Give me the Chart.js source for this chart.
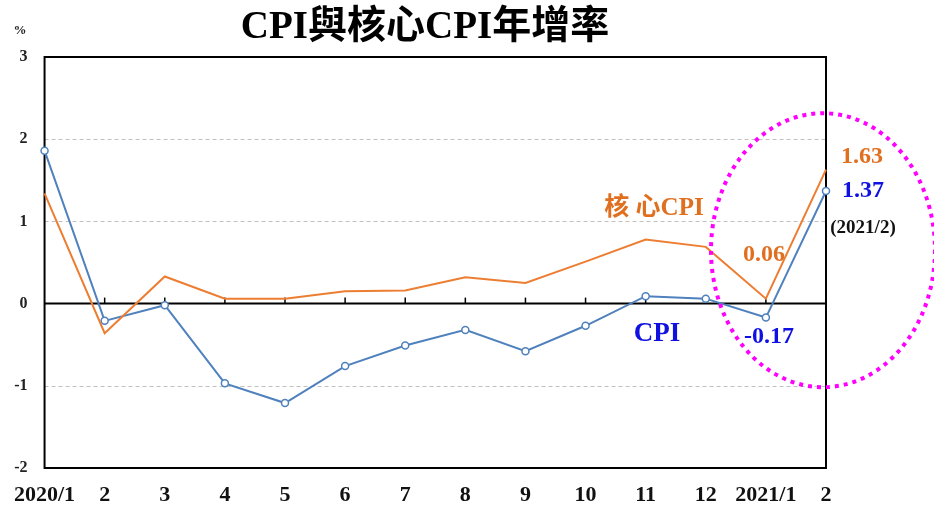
<!DOCTYPE html>
<html lang="zh-Hant">
<head>
<meta charset="UTF-8">
<title>CPI與核心CPI年增率</title>
<script src="https://cdn.jsdelivr.net/npm/chart.js"></script>
<style>
  body { margin: 0; background: #fff; }
  #wrap { width: 934px; height: 505px; }
</style>
</head>
<body>
<div id="wrap"><canvas id="cpiChart" width="934" height="505"></canvas></div>
<script>
// months 2020/1 .. 2021/2
const months = ['2020/1', '2', '3', '4', '5', '6', '7', '8', '9', '10', '11', '12', '2021/1', '2'];
const cpi = [1.86, -0.21, -0.02, -0.97, -1.21, -0.76, -0.51, -0.32, -0.58, -0.27, 0.09, 0.06, -0.17, 1.37];
const coreCpi = [1.34, -0.36, 0.33, 0.06, 0.06, 0.15, 0.16, 0.32, 0.25, 0.51, 0.78, 0.69, 0.06, 1.63];
const yTicks = [-2, -1, 0, 1, 2, 3];

const serif = '"Liberation Serif", "Times New Roman", "Noto Sans CJK TC", serif';
const orange = '#ED7D31';
const blue = '#4F81BD';

// frame, grid lines, zero axis, title and notes
const decorations = {
    id: 'decorations',
    beforeDatasetsDraw(chart) {
        const { ctx, chartArea: a, scales: { x, y } } = chart;
        ctx.save();
        ctx.strokeStyle = '#c0c0c0';
        ctx.lineWidth = 1;
        ctx.setLineDash([4, 3]);
        [1, 2, -1].forEach(v => {
            const py = Math.round(y.getPixelForValue(v)) + 0.5;
            ctx.beginPath(); ctx.moveTo(a.left, py); ctx.lineTo(a.right, py); ctx.stroke();
        });
        ctx.setLineDash([]);
        ctx.strokeStyle = '#000';
        ctx.lineWidth = 2;
        ctx.strokeRect(a.left, a.top, a.right - a.left, a.bottom - a.top);
        const zy = y.getPixelForValue(0);
        ctx.beginPath(); ctx.moveTo(a.left, zy); ctx.lineTo(a.right, zy); ctx.stroke();
        ctx.lineWidth = 1.5;
        for (let i = 1; i < months.length - 1; i++) {
            const px = x.getPixelForValue(i);
            ctx.beginPath(); ctx.moveTo(px, zy); ctx.lineTo(px, zy - 6); ctx.stroke();
        }
        ctx.restore();
    },
    afterDraw(chart) {
        const { ctx, scales: { x, y } } = chart;
        const last = months.length - 1;
        const put = (txt, px, py, size, color) => {
            ctx.font = 'bold ' + size + 'px ' + serif;
            ctx.fillStyle = color;
            ctx.fillText(txt, px, py);
        };
        ctx.save();
        ctx.textAlign = 'center';
        ctx.textBaseline = 'middle';
        put('CPI與核心CPI年增率', 425, 28, 39, '#000');
        put('%', 20, 31, 13, '#222');

        put('核 心CPI', 654, 209, 25, '#E07020');
        put('CPI', 657, 334, 27, '#1010E0');

        const xl = x.getPixelForValue(last);
        const xp = x.getPixelForValue(last - 1);
        put(coreCpi[last].toFixed(2), xl + 36, y.getPixelForValue(coreCpi[last]) - 13, 24, '#E07020');
        put(cpi[last].toFixed(2), xl + 37, y.getPixelForValue(cpi[last]) + 0, 24, '#1010E0');
        put('(2021/2)', xl + 37, y.getPixelForValue(cpi[last]) + 37, 19, '#111');
        put(coreCpi[last - 1].toFixed(2), xp - 2, y.getPixelForValue(coreCpi[last - 1]) - 44, 24, '#E07020');
        put(cpi[last - 1].toFixed(2), xp + 3, y.getPixelForValue(cpi[last - 1]) + 19, 24, '#1010E0');

        // dotted highlight ring
        ctx.strokeStyle = '#FF00FF';
        ctx.lineWidth = 4;
        ctx.setLineDash([4, 5]);
        ctx.beginPath();
        ctx.ellipse(xl - 3, y.getPixelForValue(0.65), 112, 137, 0, 0, Math.PI * 2);
        ctx.stroke();
        ctx.restore();
    }
};

new Chart(document.getElementById('cpiChart'), {
    type: 'line',
    data: {
        labels: months,
        datasets: [
            {
                label: '核心CPI',
                data: coreCpi,
                borderColor: orange,
                borderWidth: 2,
                pointRadius: 0,
                tension: 0,
                fill: false
            },
            {
                label: 'CPI',
                data: cpi,
                borderColor: blue,
                borderWidth: 2,
                pointRadius: 3.5,
                pointBorderWidth: 1.5,
                pointBackgroundColor: '#fff',
                pointBorderColor: blue,
                tension: 0,
                fill: false
            }
        ]
    },
    options: {
        responsive: false,
        animation: false,
        events: [],
        layout: { padding: { top: 57, right: 108, left: 0, bottom: 0 } },
        plugins: {
            legend: { display: false },
            tooltip: { enabled: false }
        },
        scales: {
            x: {
                offset: false,
                grid: { display: false, drawTicks: false },
                border: { display: false },
                ticks: {
                    autoSkip: false,
                    maxRotation: 0,
                    padding: 14,
                    color: '#111',
                    font: { family: serif, size: 22, weight: 'bold' }
                },
                afterFit: s => { s.height = 37; }
            },
            y: {
                min: -2,
                max: 3,
                afterBuildTicks: s => { s.ticks = yTicks.map(v => ({ value: v })); },
                grid: { display: false, drawTicks: false },
                border: { display: false },
                ticks: {
                    padding: 17,
                    color: '#222',
                    font: { family: serif, size: 16, weight: 'bold' }
                },
                afterFit: s => { s.width = 42; }
            }
        }
    },
    plugins: [decorations]
});
</script>
</body>
</html>
